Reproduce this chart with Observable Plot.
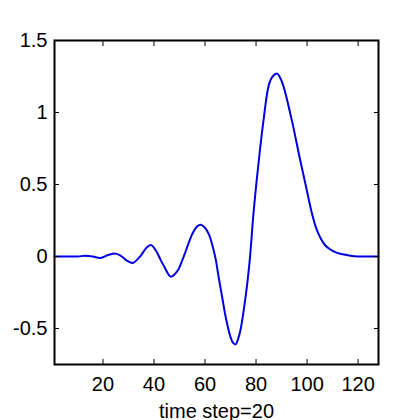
<!DOCTYPE html>
<html><head><meta charset="utf-8">
<script src="https://cdn.jsdelivr.net/npm/d3@7"></script>
<script src="https://cdn.jsdelivr.net/npm/@observablehq/plot@0.6"></script>
<style>body{margin:0;background:#fff}</style>
</head><body><div id="chart"></div>
<script>
const timeSteps = [1,5,10,13,16,19,22,25,27,29.5,31.7,33.5,35,37,38.8,40.8,42.5,44,46.6,49.2,51,52.5,55.1,57,58.3,60,61.6,63,64.2,65.4,66.8,68.1,70,71,72,73,73.9,75.9,77.5,79.1,81.1,83.1,85,86.5,88.3,89.5,90.8,94.1,97.3,99.9,101.9,103.5,105.2,107,109,111,114,117,120,128];
const values = [0,0,0,0.005,0,-0.01,0.01,0.02,0.005,-0.03,-0.045,-0.02,0.01,0.06,0.08,0.04,-0.02,-0.07,-0.14,-0.1,-0.03,0.04,0.16,0.21,0.22,0.2,0.15,0.07,-0.02,-0.15,-0.29,-0.42,-0.56,-0.6,-0.61,-0.57,-0.51,-0.28,-0.03,0.32,0.67,0.97,1.19,1.25,1.27,1.24,1.18,0.94,0.67,0.46,0.3,0.2,0.13,0.08,0.05,0.03,0.015,0.005,0,0];
const xTicks = [20,40,60,80,100,120];
const yTicks = [-0.5,0,0.5,1,1.5];
const xLabel = "time step=20";
const data = timeSteps.map((t,i)=>({t, v: values[i]}));
const chart = Plot.plot({
  width:419, height:420, marginLeft:54, marginRight:41, marginTop:40, marginBottom:56,
  style:{fontFamily:"'Liberation Sans', Arial, sans-serif", fontSize:"20px", background:"white", color:"black"},
  x:{domain:[1,128]}, y:{domain:[-0.75,1.5]},
  marks:[
    Plot.line(data,{x:"t",y:"v",stroke:"#0000e0",strokeWidth:2,curve:"catmull-rom"}),
    Plot.axisX(xTicks,{anchor:"bottom",tickSize:-5,tickPadding:17,tickFormat:d=>String(d),label:xLabel,labelAnchor:"center",labelArrow:"none",labelOffset:53}),
    Plot.axisX(xTicks,{anchor:"top",tickSize:-5,tickFormat:()=>"",label:null}),
    Plot.axisY(yTicks,{anchor:"left",tickSize:-5,tickPadding:12,tickFormat:d=>String(d),label:null}),
    Plot.axisY(yTicks,{anchor:"right",tickSize:-5,tickFormat:()=>"",label:null}),
    Plot.frame({stroke:"black",strokeWidth:2})
  ]
});
document.getElementById("chart").appendChild(chart);
</script></body></html>
